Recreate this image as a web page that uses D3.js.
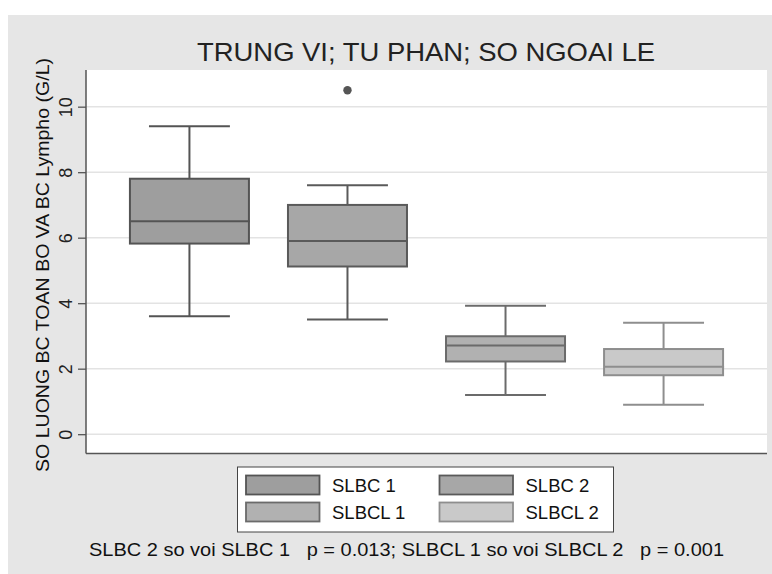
<!DOCTYPE html>
<html><head><meta charset="utf-8">
<script src="https://cdn.jsdelivr.net/npm/d3@7"></script>
<style>body{margin:0;background:#fff}svg{display:block}</style>
</head><body><svg id="c" width="772" height="574"></svg>
<script>
const categories = ["SLBC 1","SLBC 2","SLBCL 1","SLBCL 2"];
const lowWhisker = [3.6, 3.5, 1.2, 0.9];
const q1 = [5.82, 5.12, 2.22, 1.8];
const median = [6.5, 5.9, 2.71, 2.06];
const q3 = [7.8, 7.0, 2.99, 2.6];
const highWhisker = [9.4, 7.6, 3.92, 3.4];
const outliers = [[], [10.5], [], []];
const yTicks = [0,2,4,6,8,10];
const fills = ["#9e9e9e","#a7a7a7","#b1b1b1","#c9c9c9"];
const strokes = ["#545454","#5a5a5a","#6b6b6b","#8e8e8e"];
const title = "TRUNG VI; TU PHAN; SO NGOAI LE";
const yTitle = "SO LUONG BC TOAN BO VA BC Lympho (G/L)";
const note = "SLBC 2 so voi SLBC 1   p = 0.013; SLBCL 1 so voi SLBCL 2   p = 0.001";

const svg = d3.select("#c");
const font = "'Liberation Sans', Arial, sans-serif";
const narrow = "'Liberation Sans Narrow', 'Arial Narrow', 'Liberation Sans', Arial, sans-serif";
svg.append("rect").attr("x",8).attr("y",15).attr("width",764).attr("height",559).attr("fill","#e6e6e6");

const L=86,R=767,T=70,B=453.5;
svg.append("rect").attr("x",L).attr("y",T).attr("width",R-L).attr("height",B-T).attr("fill","#fff");

const y = d3.scaleLinear().domain([-0.59,11.12]).range([B,T]);
const x = d3.scaleBand().domain(categories).range([L,R]).paddingInner(0.247).paddingOuter(0.278);

// gridlines
svg.append("g").selectAll("line").data(yTicks).join("line")
  .attr("x1",L).attr("x2",R).attr("y1",d=>y(d)).attr("y2",d=>y(d))
  .attr("stroke","#e3e3e3").attr("stroke-width",1.6);

// axes
const yAxis = svg.append("g").attr("transform",`translate(${L},0)`)
  .call(d3.axisLeft(y).tickValues(yTicks).tickSize(8).tickPadding(0).tickFormat(d3.format("d")));
yAxis.select(".domain").remove();
yAxis.selectAll(".tick line").attr("stroke","#555").attr("stroke-width",1.3);
yAxis.selectAll(".tick text").attr("fill","#222").attr("font-family",font).attr("font-size",18)
  .attr("transform","rotate(-90)").attr("x",0).attr("y",-14).attr("dy",0).attr("text-anchor","middle");
svg.append("line").attr("x1",L).attr("x2",L).attr("y1",T).attr("y2",B).attr("stroke","#555").attr("stroke-width",1.5);
svg.append("line").attr("x1",L).attr("x2",R).attr("y1",B).attr("y2",B).attr("stroke","#555").attr("stroke-width",1.5);

// boxes
const bw = x.bandwidth(), cap = bw*0.68;
const g = svg.append("g");
categories.forEach((c,i)=>{
  const cx = x(c)+bw/2;
  const col = strokes[i];
  g.append("line").attr("x1",cx).attr("x2",cx).attr("y1",y(highWhisker[i])).attr("y2",y(q3[i])).attr("stroke",col).attr("stroke-width",2);
  g.append("line").attr("x1",cx).attr("x2",cx).attr("y1",y(q1[i])).attr("y2",y(lowWhisker[i])).attr("stroke",col).attr("stroke-width",2);
  g.append("line").attr("x1",cx-cap/2).attr("x2",cx+cap/2).attr("y1",y(highWhisker[i])).attr("y2",y(highWhisker[i])).attr("stroke",col).attr("stroke-width",2);
  g.append("line").attr("x1",cx-cap/2).attr("x2",cx+cap/2).attr("y1",y(lowWhisker[i])).attr("y2",y(lowWhisker[i])).attr("stroke",col).attr("stroke-width",2);
  g.append("rect").attr("x",x(c)).attr("y",y(q3[i])).attr("width",bw).attr("height",y(q1[i])-y(q3[i]))
    .attr("fill",fills[i]).attr("stroke",col).attr("stroke-width",2);
  g.append("line").attr("x1",x(c)).attr("x2",x(c)+bw+1).attr("y1",y(median[i])).attr("y2",y(median[i])).attr("stroke",col).attr("stroke-width",2);
  outliers[i].forEach(v=>{
    g.append("circle").attr("cx",cx).attr("cy",y(v)).attr("r",4.2).attr("fill","#555");
  });
});

// title
svg.append("text").attr("x",426).attr("y",61).attr("text-anchor","middle")
  .attr("font-family",narrow).attr("font-size",26).attr("fill","#222")
  .attr("textLength",458).attr("lengthAdjust","spacingAndGlyphs").text(title);

// y title
svg.append("text").attr("transform","translate(49,265) rotate(-90)").attr("text-anchor","middle")
  .attr("font-family",font).attr("font-size",18).attr("fill","#111")
  .attr("textLength",414).attr("lengthAdjust","spacingAndGlyphs").text(yTitle);

// legend
svg.append("rect").attr("x",237.5).attr("y",467).attr("width",376).attr("height",65)
  .attr("fill","#fff").attr("stroke","#444").attr("stroke-width",1);
const lx=[246,439.5], ly=[475.5,502.5];
categories.forEach((c,i)=>{
  const col=i%2,row=Math.floor(i/2);
  svg.append("rect").attr("x",lx[col]).attr("y",ly[row]).attr("width",73.5).attr("height",19)
    .attr("fill",fills[i]).attr("stroke",strokes[i]).attr("stroke-width",1.8);
  svg.append("text").attr("x",lx[col]+86).attr("y",ly[row]+16.5).attr("font-family",font)
    .attr("font-size",18.5).attr("fill","#111").text(c);
});

// note
svg.append("text").attr("x",89).attr("y",556).attr("font-family",narrow).attr("font-size",18)
  .attr("fill","#111").attr("textLength",635).attr("lengthAdjust","spacingAndGlyphs").attr("xml:space","preserve").text(note);
</script></body></html>
